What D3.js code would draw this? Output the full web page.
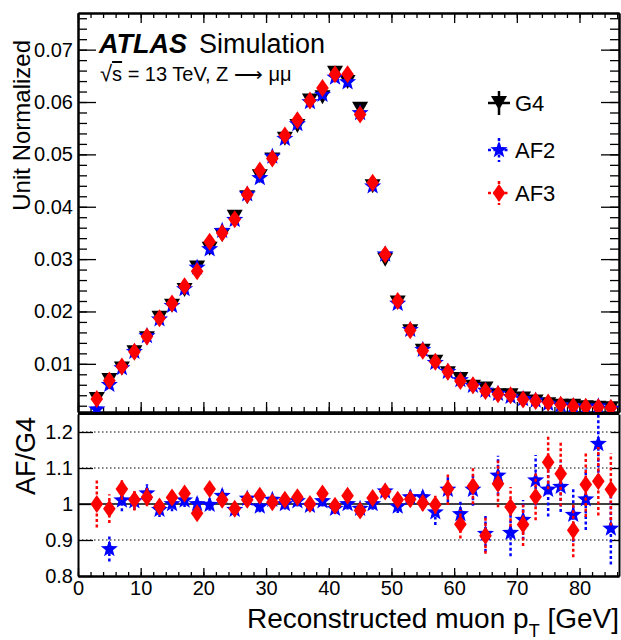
<!DOCTYPE html>
<html>
<head>
<meta charset="utf-8">
<script src="https://cdnjs.cloudflare.com/ajax/libs/d3/7.8.5/d3.min.js"></script>
<style>
body { margin: 0; background: #fff; }
text { font-family: "Liberation Sans", Arial, Helvetica, sans-serif; }
</style>
</head>
<body>
<div id="chart-area"></div>
<script>
// bin centres (2 GeV bins)
var ptBins = [3, 5, 7, 9, 11, 13, 15, 17, 19, 21, 23, 25, 27, 29, 31, 33, 35, 37, 39, 41, 43,
              45, 47, 49, 51, 53, 55, 57, 59, 61, 63, 65, 67, 69, 71, 73, 75, 77, 79, 81, 83, 85];

var g4 = [0.0033, 0.0069, 0.0091, 0.0122, 0.0149, 0.0188, 0.0211, 0.0241, 0.0284, 0.0320, 0.0346,
          0.0381, 0.0418, 0.0458, 0.0490, 0.0530, 0.0554, 0.0603, 0.0609, 0.0656, 0.0638,
          0.0587, 0.0439, 0.0299, 0.0217, 0.0162, 0.0125, 0.0104, 0.0082, 0.0071, 0.0056,
          0.0053, 0.0040, 0.0040, 0.0034, 0.0028, 0.0023, 0.0020, 0.0020, 0.0017, 0.0016, 0.0015];

var af2 = [0.0013, 0.0060, 0.0092, 0.0123, 0.0153, 0.0185, 0.0211, 0.0243, 0.0284, 0.0319, 0.0354,
           0.0375, 0.0424, 0.0455, 0.0496, 0.0530, 0.0558, 0.0600, 0.0614, 0.0647, 0.0638,
           0.0579, 0.0439, 0.0309, 0.0215, 0.0165, 0.0127, 0.0102, 0.0085, 0.0069, 0.0058,
           0.0049, 0.0043, 0.0037, 0.0033, 0.0030, 0.0024, 0.0021, 0.0019, 0.0017, 0.0019, 0.0014];

var af3 = [0.0033, 0.0068, 0.0095, 0.0123, 0.0152, 0.0187, 0.0215, 0.0248, 0.0277, 0.0333, 0.0350,
           0.0376, 0.0423, 0.0469, 0.0492, 0.0536, 0.0565, 0.0603, 0.0627, 0.0653, 0.0653,
           0.0576, 0.0446, 0.0309, 0.0220, 0.0164, 0.0125, 0.0104, 0.0085, 0.0067, 0.0059,
           0.0048, 0.0042, 0.0040, 0.0032, 0.0029, 0.0026, 0.0022, 0.0019, 0.0018, 0.0017, 0.0016];

var af2Ratio = [0.40, 0.875, 1.010, 1.008, 1.030, 0.984, 1.000, 1.010, 1.000, 0.998, 1.023,
                0.984, 1.015, 0.993, 1.012, 1.000, 1.008, 0.995, 1.008, 0.987, 1.000,
                0.987, 1.000, 1.035, 0.993, 1.019, 1.019, 0.977, 1.040, 0.972, 1.040,
                0.917, 1.079, 0.920, 0.956, 1.066, 1.040, 1.048, 0.970, 1.013, 1.167, 0.932];
var af2RatioErr = [0.10, 0.035, 0.030, 0.025, 0.025, 0.020, 0.020, 0.018, 0.018, 0.017, 0.017,
                   0.016, 0.016, 0.016, 0.015, 0.015, 0.015, 0.015, 0.015, 0.015, 0.015,
                   0.015, 0.016, 0.017, 0.018, 0.020, 0.022, 0.035, 0.035, 0.035, 0.045,
                   0.050, 0.055, 0.065, 0.055, 0.070, 0.075, 0.070, 0.075, 0.085, 0.080, 0.100];

var af3Ratio = [1.000, 0.987, 1.042, 1.012, 1.019, 0.993, 1.018, 1.029, 0.974, 1.042, 1.012,
                0.987, 1.012, 1.023, 1.005, 1.012, 1.019, 1.000, 1.029, 0.995, 1.023,
                0.982, 1.017, 1.035, 1.012, 1.013, 1.003, 0.998, 1.042, 0.944, 1.049,
                0.912, 1.056, 0.992, 0.943, 1.020, 1.116, 1.084, 0.927, 1.054, 1.063, 1.040];
var af3RatioErr = [0.065, 0.040, 0.030, 0.030, 0.025, 0.020, 0.020, 0.018, 0.018, 0.017, 0.017,
                   0.016, 0.016, 0.016, 0.015, 0.015, 0.015, 0.015, 0.015, 0.015, 0.015,
                   0.015, 0.016, 0.017, 0.018, 0.020, 0.022, 0.025, 0.045, 0.040, 0.050,
                   0.050, 0.065, 0.055, 0.060, 0.065, 0.075, 0.090, 0.075, 0.090, 0.095, 0.100];

var xTicks = [0, 10, 20, 30, 40, 50, 60, 70, 80];
var yTicksTop = [0.01, 0.02, 0.03, 0.04, 0.05, 0.06, 0.07];
var yTicksRatio = [0.8, 0.9, 1, 1.1, 1.2];
var gridRatio = [0.9, 1.1, 1.2];
var legendNames = ["G4", "AF2", "AF3"];

var W = 621, H = 640;
var left = 78, right = 619;
var topY0 = 13, topY1 = 412;
var ratY0 = 414, ratY1 = 576;

var svg = d3.select("#chart-area")
	.append("svg")
	.attr("width", W)
	.attr("height", H)

var x = d3.scaleLinear().domain([0, 86.3]).range([left, right]);
var yTop = d3.scaleLinear().domain([0.0008, 0.077]).range([topY1, topY0]);
var yRat = d3.scaleLinear().domain([0.8, 1.25]).range([ratY1, ratY0]);

var minorX = d3.range(0, 87, 2);
var minorYTop = d3.range(0.002, 0.077, 0.002);

svg.append("clipPath").attr("id", "clipTop")
	.append("rect").attr("x", left).attr("y", topY0).attr("width", right - left).attr("height", topY1 - topY0);
svg.append("clipPath").attr("id", "clipRat")
	.append("rect").attr("x", left).attr("y", ratY0).attr("width", right - left).attr("height", ratY1 - ratY0);

function styleAxis(g, fs) {
	g.attr("font-size", fs + "px").attr("font-family", "'Liberation Sans', Arial, sans-serif");
	g.selectAll("line").attr("stroke", "#000").attr("stroke-width", 1.3);
	g.selectAll("path.domain").attr("stroke", "#000").attr("stroke-width", 2);
	g.selectAll("text").attr("fill", "#000");
}

// ---------- top panel axes
styleAxis(svg.append("g").attr("transform", "translate(" + left + ",0)")
	.call(d3.axisLeft(yTop).tickValues(minorYTop).tickSize(-9).tickSizeOuter(0).tickFormat("")), 20);
styleAxis(svg.append("g").attr("transform", "translate(" + left + ",0)")
	.call(d3.axisLeft(yTop).tickValues(yTicksTop).tickSize(-18).tickSizeOuter(0).tickPadding(5)
		.tickFormat(d3.format(".2f"))), 20);
styleAxis(svg.append("g").attr("transform", "translate(" + right + ",0)")
	.call(d3.axisRight(yTop).tickValues(minorYTop).tickSize(-9).tickSizeOuter(0).tickFormat("")), 20);
styleAxis(svg.append("g").attr("transform", "translate(" + right + ",0)")
	.call(d3.axisRight(yTop).tickValues(yTicksTop).tickSize(-18).tickSizeOuter(0).tickFormat("")), 20);
styleAxis(svg.append("g").attr("transform", "translate(0," + topY0 + ")")
	.call(d3.axisTop(x).tickValues(minorX).tickSize(-5).tickSizeOuter(0).tickFormat("")), 20);
styleAxis(svg.append("g").attr("transform", "translate(0," + topY0 + ")")
	.call(d3.axisTop(x).tickValues(xTicks).tickSize(-10).tickSizeOuter(0).tickFormat("")), 20);
styleAxis(svg.append("g").attr("transform", "translate(0," + topY1 + ")")
	.call(d3.axisBottom(x).tickValues(minorX).tickSize(-5).tickSizeOuter(0).tickFormat("")), 20);
styleAxis(svg.append("g").attr("transform", "translate(0," + topY1 + ")")
	.call(d3.axisBottom(x).tickValues(xTicks).tickSize(-10).tickSizeOuter(0).tickFormat("")), 20);

// ---------- ratio panel axes + grid
svg.append("g").selectAll("line").data(gridRatio).enter().append("line")
	.attr("x1", left).attr("x2", right)
	.attr("y1", function(d) { return yRat(d); })
	.attr("y2", function(d) { return yRat(d); })
	.attr("stroke", "#000").attr("stroke-width", 1).attr("stroke-dasharray", "1.5,2.5");
svg.append("line")
	.attr("x1", left).attr("x2", right)
	.attr("y1", yRat(1)).attr("y2", yRat(1))
	.attr("stroke", "#000").attr("stroke-width", 1.5);

styleAxis(svg.append("g").attr("transform", "translate(" + left + ",0)")
	.call(d3.axisLeft(yRat).tickValues(yTicksRatio).tickSize(-15).tickSizeOuter(0).tickPadding(5)
		.tickFormat(function(d) { return d === 1 ? "1" : d3.format(".1f")(d); })), 20);
styleAxis(svg.append("g").attr("transform", "translate(" + right + ",0)")
	.call(d3.axisRight(yRat).tickValues(yTicksRatio).tickSize(-8).tickSizeOuter(0).tickFormat("")), 20);
styleAxis(svg.append("g").attr("transform", "translate(0," + ratY1 + ")")
	.call(d3.axisBottom(x).tickValues(minorX).tickSize(-4).tickSizeOuter(0).tickFormat("")), 20);
styleAxis(svg.append("g").attr("transform", "translate(0," + ratY1 + ")")
	.call(d3.axisBottom(x).tickValues(xTicks).tickSize(-8).tickSizeOuter(0).tickPadding(5)), 20);
svg.append("line").attr("x1", left).attr("x2", right).attr("y1", ratY0).attr("y2", ratY0)
	.attr("stroke", "#000").attr("stroke-width", 2);

// ---------- markers
var triPath = "M-8,-7L8,-7L0,7Z";
var diaPath = "M0,-9L6.3,0L0,9L-6.3,0Z";
function starPath(R, r) {
	var pts = [];
	for (var k = 0; k < 10; k++) {
		var a = -Math.PI / 2 + k * Math.PI / 5;
		var rad = k % 2 === 0 ? R : r;
		pts.push([(rad * Math.cos(a)).toFixed(2), (rad * Math.sin(a)).toFixed(2)]);
	}
	return "M" + pts.join("L") + "Z";
}
var stPath = starPath(9, 3.8);

var topG = svg.append("g").attr("clip-path", "url(#clipTop)");
function drawTop(vals, path, col) {
	topG.append("g").selectAll("path").data(vals).enter().append("path")
		.attr("d", path)
		.attr("fill", col)
		.attr("transform", function(d, i) { return "translate(" + x(ptBins[i]) + "," + yTop(d) + ")"; });
}
drawTop(g4, triPath, "#000");
drawTop(af2, stPath, "#0000ff");
drawTop(af3, diaPath, "#ff0000");

var ratG = svg.append("g").attr("clip-path", "url(#clipRat)");
function drawRatio(vals, errs, path, col) {
	var g = ratG.append("g");
	g.selectAll("line").data(vals).enter().append("line")
		.attr("x1", function(d, i) { return x(ptBins[i]); })
		.attr("x2", function(d, i) { return x(ptBins[i]); })
		.attr("y1", function(d, i) { return yRat(d - errs[i]); })
		.attr("y2", function(d, i) { return yRat(d + errs[i]); })
		.attr("stroke", col).attr("stroke-width", 2.5).attr("stroke-dasharray", "3,2.5");
	g.selectAll("path").data(vals).enter().append("path")
		.attr("d", path)
		.attr("fill", col)
		.attr("transform", function(d, i) { return "translate(" + x(ptBins[i]) + "," + yRat(d) + ")"; });
}
drawRatio(af2Ratio, af2RatioErr, stPath, "#0000ff");
drawRatio(af3Ratio, af3RatioErr, diaPath, "#ff0000");

// ---------- texts
svg.append("text")
	.attr("transform", "translate(30,40) rotate(-90)")
	.attr("text-anchor", "end")
	.attr("font-size", "24px")
	.text("Unit Normalized");

svg.append("text")
	.attr("transform", "translate(35,417) rotate(-90)")
	.attr("text-anchor", "end")
	.attr("font-size", "27px")
	.text("AF/G4");

var xt = svg.append("text")
	.attr("x", 619).attr("y", 628)
	.attr("text-anchor", "end")
	.attr("font-size", "28px");
xt.append("tspan").text("Reconstructed muon p");
xt.append("tspan").attr("font-size", "18px").attr("dy", 9).text("T");
xt.append("tspan").attr("dy", -9).text(" [GeV]");

svg.append("text")
	.attr("x", 99).attr("y", 53)
	.attr("font-size", "27px").attr("font-weight", "bold").attr("font-style", "italic")
	.text("ATLAS");
svg.append("text")
	.attr("x", 199).attr("y", 53)
	.attr("font-size", "27px")
	.text("Simulation");

var sq = svg.append("text")
	.attr("x", 100).attr("y", 81)
	.attr("font-size", "20px");
sq.append("tspan").attr("font-size", "22px").text("√");
sq.append("tspan").attr("text-decoration", "overline").text("s");
sq.append("tspan").text(" = 13 TeV, Z ⟶ μμ");

// ---------- legend
var legY = [103, 150, 193];
var legCol = ["#000", "#0000ff", "#ff0000"];
var legPath = [triPath, stPath, diaPath];
var legX = 499;
legendNames.forEach(function(name, i) {
	var dash = i === 0 ? null : "3,2.5";
	svg.append("line").attr("x1", legX - 11).attr("x2", legX + 11)
		.attr("y1", legY[i]).attr("y2", legY[i])
		.attr("stroke", legCol[i]).attr("stroke-width", 2.5).attr("stroke-dasharray", dash);
	svg.append("line").attr("x1", legX).attr("x2", legX)
		.attr("y1", legY[i] - 12).attr("y2", legY[i] + 12)
		.attr("stroke", legCol[i]).attr("stroke-width", 2.5).attr("stroke-dasharray", dash);
	svg.append("path").attr("d", legPath[i]).attr("fill", legCol[i])
		.attr("transform", "translate(" + legX + "," + legY[i] + ")");
	svg.append("text")
		.attr("x", 515).attr("y", legY[i] + 8)
		.attr("font-size", "22px")
		.text(name);
});
</script>
</body>
</html>
